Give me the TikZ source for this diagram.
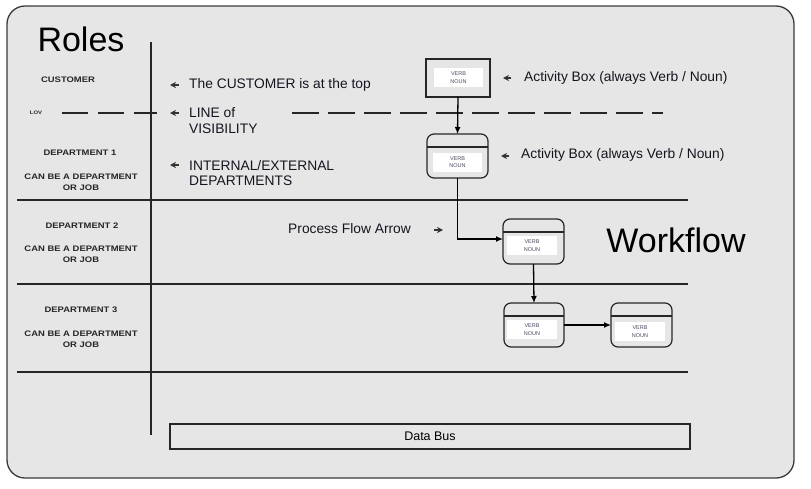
\documentclass[tikz,border=0pt]{standalone}
\usepackage{fontspec}
\setmainfont{Liberation Sans}
\newfontfamily\lblfont[FakeStretch=1.18]{Liberation Sans Bold}
\usetikzlibrary{arrows.meta}
\definecolor{bgframe}{HTML}{E6E6E6}
\definecolor{framecol}{HTML}{3A3A3A}
\definecolor{vncol}{HTML}{4A4A60}
\definecolor{txtcol}{HTML}{151520}
\tikzset{
  lane/.style={line width=1.2pt, draw=black!85},
  actbox/.style={draw=black!85, line width=1.2pt, fill=bgframe, inner sep=0pt, outer sep=0pt, rounded corners=7pt},
  sqbox/.style={draw=black!85, line width=1.3pt, fill=bgframe, inner sep=0pt, outer sep=0pt},
  vn/.style={fill=white, inner sep=0pt, minimum width=49pt, minimum height=19pt, align=center, font=\fontsize{5.5}{7.5}\selectfont, text=vncol},
  flow/.style={line width=1.3pt, draw=black, -{Latex[length=7pt,width=6pt]}},
  tick/.style={line width=1.2pt, draw=black!80, -{Stealth[length=6pt,width=6pt,inset=2pt]}},
  note/.style={anchor=west, inner sep=0pt, font=\fontsize{13.8}{15.5}\selectfont, text=txtcol, align=left},
  role/.style={inner sep=0pt, align=center, font=\lblfont\fontsize{8}{11}\selectfont, text=black!85},
  big/.style={inner sep=0pt, font=\fontsize{34}{38}\selectfont, text=black},
}
\begin{document}
\begin{tikzpicture}[x=1pt,y=-1pt]
\useasboundingbox (0,0) rectangle (811,488);
\fill[white] (0,0) rectangle (811,488);
% outer frame
\draw[fill=bgframe, draw=framecol, line width=1.3pt, rounded corners=18pt] (7,6) rectangle (794,478);

% titles
\node[big] (roles) at (81,39) {Roles};
\node[big] (workflow) at (676,240) {Workflow};

% lanes
\draw[lane, line width=1.5pt] (151,42) -- (151,435);
\draw[lane] (17,200) -- (688,200);
\draw[lane] (17,284) -- (688,284);
\draw[lane] (17,372) -- (688,372);
\draw[lane, line width=1.3pt, dash pattern=on 26pt off 10pt] (62,113) -- (157,113);
\draw[lane, line width=1.3pt, dash pattern=on 27pt off 9pt] (292,113) -- (663,113);

% role labels
\node[role] (cust) at (68,80) {CUSTOMER};
\node[role, font=\lblfont\fontsize{5}{6}\selectfont] (lov) at (36,113) {LOV};
\node[role] (d1) at (80,153) {DEPARTMENT 1};
\node[role] (d1b) at (81,182) {CAN BE A DEPARTMENT\\OR JOB};
\node[role] (d2) at (82,226) {DEPARTMENT 2};
\node[role] (d2b) at (81,254) {CAN BE A DEPARTMENT\\OR JOB};
\node[role] (d3) at (81,310) {DEPARTMENT 3};
\node[role] (d3b) at (81,339.5) {CAN BE A DEPARTMENT\\OR JOB};

% notes
\node[note] (n1) at (189,85) {The CUSTOMER is at the top};
\node[note] (n2) at (189,120.5) {LINE of\\VISIBILITY};
\node[note] (n3) at (189,173) {INTERNAL/EXTERNAL\\DEPARTMENTS};
\node[note] (n4) at (524,78) {Activity Box (always Verb / Noun)};
\node[note] (n5) at (521,155) {Activity Box (always Verb / Noun)};
\node[note] (n6) at (288,229) {Process Flow Arrow};

% note markers
\coordinate (m1a) at (179,85);   \coordinate (m1b) at (170,85);
\coordinate (m2a) at (179,113);  \coordinate (m2b) at (170,113);
\coordinate (m3a) at (179,165);  \coordinate (m3b) at (170,165);
\coordinate (m4a) at (511,78);   \coordinate (m4b) at (503,78);
\coordinate (m5a) at (509,156);  \coordinate (m5b) at (501,156);
\coordinate (m6a) at (434,230);  \coordinate (m6b) at (443,230);
\draw[tick] (m1a) -- (m1b);
\draw[tick] (m2a) -- (m2b);
\draw[tick] (m3a) -- (m3b);
\draw[tick] (m4a) -- (m4b);
\draw[tick] (m5a) -- (m5b);
\draw[tick] (m6a) -- (m6b);

% activity boxes
\node[sqbox, minimum width=64pt, minimum height=38pt] (a) at (458,78) {};
\node[vn] (av) at (458.5,77.5) {VERB\\NOUN};

\node[actbox, minimum width=61pt, minimum height=44pt] (b) at (457.5,156) {};
\draw[lane, line width=1.1pt] ([yshift=-13pt]b.north west) -- ([yshift=-13pt]b.north east);
\node[vn] (bv) at (457.5,162) {VERB\\NOUN};

\node[actbox, minimum width=61pt, minimum height=45pt] (c) at (533.5,241.5) {};
\draw[lane, line width=1.1pt] ([yshift=-13pt]c.north west) -- ([yshift=-13pt]c.north east);
\node[vn, minimum width=50pt] (cv) at (532,245.5) {VERB\\NOUN};

\node[actbox, minimum width=60pt, minimum height=44pt] (d) at (534,325) {};
\draw[lane, line width=1.1pt] ([yshift=-13pt]d.north west) -- ([yshift=-13pt]d.north east);
\node[vn, minimum width=50pt] (dv) at (532,329.5) {VERB\\NOUN};

\node[actbox, minimum width=61pt, minimum height=44pt] (e) at (641.5,325) {};
\draw[lane, line width=1.1pt] ([yshift=-13pt]e.north west) -- ([yshift=-13pt]e.north east);
\node[vn, minimum width=50pt] (ev) at (640,331.5) {VERB\\NOUN};

% flows
\draw[flow] (a.south) -- (b.north);
\draw[flow] (b.south) |- ([yshift=2.5pt]c.west);
\draw[flow] (c.south) -- (d.north);
\draw[flow] (d.east) -- (e.west);

% data bus
\node[draw=black!85, line width=1.3pt, minimum width=520pt, minimum height=25pt, inner sep=0pt, font=\fontsize{12.5}{14}\selectfont] (bus) at (430,436.5) {Data Bus};
\end{tikzpicture}
\end{document}
